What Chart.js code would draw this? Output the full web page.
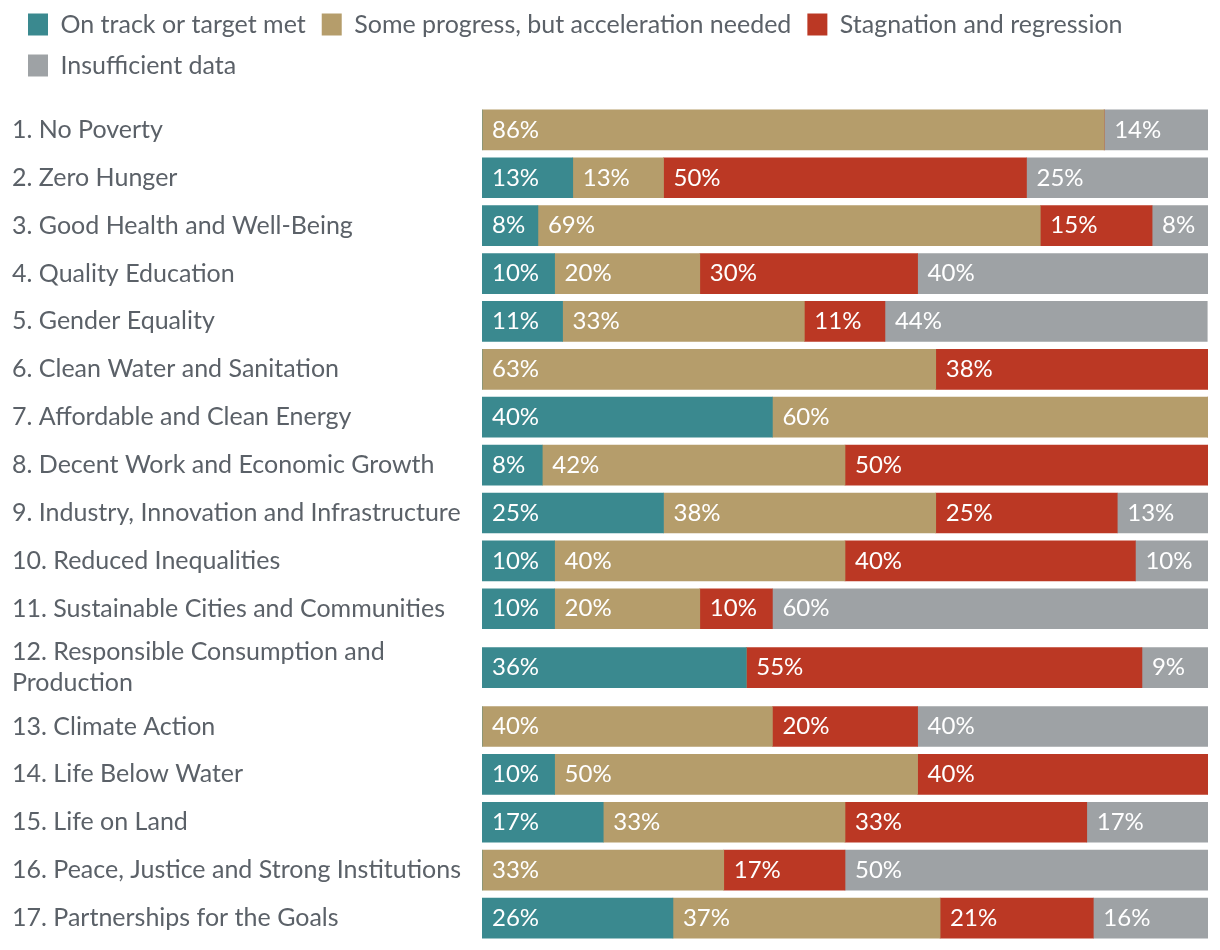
<!DOCTYPE html>
<html>
<head>
<meta charset="utf-8">
<script src="https://cdn.jsdelivr.net/npm/chart.js@4"></script>
<style>
  html, body { margin: 0; padding: 0; background: #fff; overflow: hidden; }
  #wrap { position: absolute; left: 0; top: -4px; width: 1220px; height: 954px; }
</style>
</head>
<body>
<div id="wrap"><canvas id="goals"></canvas></div>
<script>
const GOALS = [
  '1. No Poverty',
  '2. Zero Hunger',
  '3. Good Health and Well-Being',
  '4. Quality Education',
  '5. Gender Equality',
  '6. Clean Water and Sanitation',
  '7. Affordable and Clean Energy',
  '8. Decent Work and Economic Growth',
  '9. Industry, Innovation and Infrastructure',
  '10. Reduced Inequalities',
  '11. Sustainable Cities and Communities',
  ['12. Responsible Consumption and', 'Production'],
  '13. Climate Action',
  '14. Life Below Water',
  '15. Life on Land',
  '16. Peace, Justice and Strong Institutions',
  '17. Partnerships for the Goals'
];

const SERIES_NAMES = [
  'On track or target met',
  'Some progress, but acceleration needed',
  'Stagnation and regression',
  'Insufficient data'
];

// share of targets (%) per goal
const ON_TRACK      = [0, 12.5, 7.7, 10, 11.1, 0, 40, 8.3, 25, 10, 10, 36.4, 0, 10, 16.7, 0, 26.3];
const SOME_PROGRESS = [85.7, 12.5, 69.2, 20, 33.3, 62.5, 60, 41.7, 37.5, 40, 20, 0, 40, 50, 33.3, 33.3, 36.8];
const STAGNATION    = [0, 50, 15.4, 30, 11.1, 37.5, 0, 50, 25, 40, 10, 54.5, 20, 40, 33.3, 16.7, 21.1];
const INSUFFICIENT  = [14.3, 25, 7.7, 40, 44.4, 0, 0, 0, 12.5, 10, 60, 9.1, 40, 0, 16.7, 50, 15.8];

const COLORS = ['#3a898f', '#b59d6b', '#bb3824', '#9ea2a5'];
const TEXT_GREY = '#5b6168';
const FONT = 'Lato, "Noto Sans", sans-serif';

// rows with a wrapped label get a little extra room above and below
const EXTRA_PER_LINE = 0.23;
const rowPos = [];
let cursor = 0;
GOALS.forEach(g => {
  const extra = (Array.isArray(g) ? g.length - 1 : 0) * EXTRA_PER_LINE;
  cursor += extra;
  rowPos.push(cursor);
  cursor += extra + 1;
});

const makeSet = (name, values, color) => ({
  label: name,
  data: values.map((v, i) => ({ x: v, y: rowPos[i] })),
  backgroundColor: color,
  borderWidth: 0,
  barThickness: 40
});

const valueLabels = {
  id: 'valueLabels',
  afterDatasetsDraw(chart) {
    const ctx = chart.ctx;
    ctx.save();
    ctx.font = '24px ' + FONT;
    ctx.fillStyle = '#ffffff';
    ctx.textAlign = 'left';
    ctx.textBaseline = 'middle';
    chart.data.datasets.forEach((ds, di) => {
      const meta = chart.getDatasetMeta(di);
      meta.data.forEach((bar, i) => {
        const v = ds.data[i].x;
        if (!v) return;
        ctx.fillText(Math.round(v) + '%', Math.min(bar.base, bar.x) + 10, bar.y);
      });
    });
    ctx.restore();
  }
};

new Chart(document.getElementById('goals'), {
  type: 'bar',
  data: {
    datasets: [
      makeSet(SERIES_NAMES[0], ON_TRACK, COLORS[0]),
      makeSet(SERIES_NAMES[1], SOME_PROGRESS, COLORS[1]),
      makeSet(SERIES_NAMES[2], STAGNATION, COLORS[2]),
      makeSet(SERIES_NAMES[3], INSUFFICIENT, COLORS[3])
    ]
  },
  options: {
    indexAxis: 'y',
    responsive: true,
    maintainAspectRatio: false,
    animation: false,
    layout: { padding: { left: 12, right: 12, top: 0, bottom: 8 } },
    scales: {
      x: {
        type: 'linear',
        stacked: true,
        min: 0,
        max: 100,
        display: false
      },
      y: {
        type: 'linear',
        stacked: true,
        reverse: true,
        offset: false,
        min: -0.875,
        max: 16.96,
        grid: { display: false, offset: false },
        border: { display: false },
        afterBuildTicks: scale => {
          scale.ticks = rowPos.map(v => ({ value: v }));
        },
        afterFit: scale => {
          scale.width = 470;
          scale.paddingTop = 0;
          scale.paddingBottom = 0;
        },
        ticks: {
          autoSkip: false,
          crossAlign: 'far',
          color: TEXT_GREY,
          font: { family: FONT, size: 25, lineHeight: 1.25 },
          callback: (value, index) => GOALS[index]
        }
      }
    },
    plugins: {
      legend: {
        position: 'top',
        align: 'start',
        labels: {
          boxWidth: 20,
          boxHeight: 22,
          padding: 16,
          color: TEXT_GREY,
          font: { family: FONT, size: 25 }
        }
      },
      tooltip: { enabled: false }
    }
  },
  plugins: [valueLabels]
});
</script>
</body>
</html>
